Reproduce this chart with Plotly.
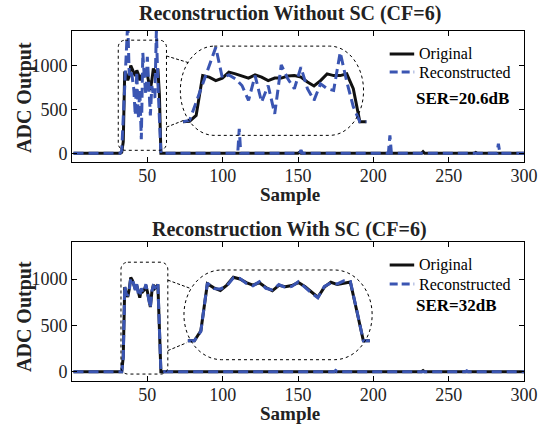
import plotly.graph_objects as go

# ---------------- data ----------------
n_samples = 300
samples = list(range(1, n_samples + 1))

# pulse region (sample index 32 .. 60)
pulse_samples = list(range(32, 61))
orig_top_pulse = [0, 10, 130, 935, 905, 835, 885, 1005, 970, 925, 885, 950, 905, 835, 885,
                  885, 925, 935, 905, 805, 725, 835, 970, 935, 935, 970, 670, 0, 0]
recon_top_pulse = [0, 30, 395, 765, 1135, 1506, 890, 950, 870, 735, 434, 935, 400, 735, 160,
                   1150, 870, 670, 1105, 670, 434, 770, 670, 635, 1405, 815, 307, 0, 0]
orig_bot_pulse = [0, 0, 161, 913, 848, 806, 892, 1018, 989, 932, 892, 929, 852, 800, 887,
                  865, 884, 932, 868, 779, 698, 860, 937, 900, 924, 940, 473, 0, 0]
recon_bot_pulse = [0, 0, 150, 925, 835, 830, 880, 1010, 1000, 920, 880, 945, 840, 815, 900,
                   855, 870, 945, 860, 765, 690, 870, 925, 910, 960, 950, 480, 0, 0]

# small excursions on the baseline
top_orig_bump_n = [151, 233, 268]
top_orig_bump_v = [12, 18, 10]
top_recon_spike_n = [111, 152, 211, 283]
top_recon_spike_v = [280, 35, 205, 110]
bot_orig_bump_n = [120, 233, 250]
bot_orig_bump_v = [8, 12, 8]
bot_recon_spike_n = [175, 262]
bot_recon_spike_v = [14, 10]

x_ticks = [50, 100, 150, 200, 250, 300]
y_ticks = [0, 500, 1000]

titles = ["Reconstruction Without SC (CF=6)", "Reconstruction With SC (CF=6)"]
ser_labels = ["SER=20.6dB", "SER=32dB"]


def build(pulse, bump_n, bump_v):
    arr = [0.0] * n_samples
    for n, v in zip(pulse_samples, pulse):
        arr[n - 1] = v
    for n, v in zip(bump_n, bump_v):
        arr[n - 1] = v
    return arr


orig_top = build(orig_top_pulse, top_orig_bump_n, top_orig_bump_v)
recon_top = build(recon_top_pulse, top_recon_spike_n, top_recon_spike_v)
orig_bot = build(orig_bot_pulse, bot_orig_bump_n, bot_orig_bump_v)
recon_bot = build(recon_bot_pulse, bot_recon_spike_n, bot_recon_spike_v)

# ---------------- style ----------------
FONT = "Liberation Serif"
BLUE = "#3A55B2"
BLACK = "#111111"
DASH = "10px,5px"

fig = go.Figure()

# layout geometry (pixels); body margin is removed by the post script
W, H = 550, 428
ML, MR, MT, MB = 72, 17, 31, 47
plot_h = H - MT - MB


def frac_y(px):
    return (H - MB - px) / plot_h


def fx(px):
    return (px - ML) / (W - ML - MR)


top_dom = [frac_y(162), frac_y(31)]
bot_dom = [frac_y(381), frac_y(242)]


def inset(pulse, x0, dx, y0, sy):
    xs = [x0 + (n - pulse_samples[0]) * dx for n in pulse_samples]
    ys = [y0 + v * sy for v in pulse]
    return xs, ys


panels = [
    dict(orig=orig_top, recon=recon_top, op=orig_top_pulse, rp=recon_top_pulse,
         xa="x", ya="y", ins=(73.7, 4.346, 360, 0.566)),
    dict(orig=orig_bot, recon=recon_bot, op=orig_bot_pulse, rp=recon_bot_pulse,
         xa="x2", ya="y2", ins=(76.9, 4.314, 334, 0.674)),
]

for p in panels:
    fig.add_trace(go.Scatter(x=samples, y=p["orig"], mode="lines", xaxis=p["xa"], yaxis=p["ya"],
                             line=dict(color=BLACK, width=3), showlegend=False))
    fig.add_trace(go.Scatter(x=samples, y=p["recon"], mode="lines", xaxis=p["xa"], yaxis=p["ya"],
                             line=dict(color=BLUE, width=3, dash=DASH), showlegend=False))
    ix, iy = inset(p["op"], *p["ins"])
    fig.add_trace(go.Scatter(x=ix, y=iy, mode="lines", xaxis=p["xa"], yaxis=p["ya"],
                             line=dict(color=BLACK, width=3), showlegend=False))
    ix, iy = inset(p["rp"], *p["ins"])
    fig.add_trace(go.Scatter(x=ix, y=iy, mode="lines", xaxis=p["xa"], yaxis=p["ya"],
                             line=dict(color=BLUE, width=3, dash=DASH), showlegend=False))


def rrect(x0, x1, y0, y1, rx, ry):
    k = 0.5523
    return (f"M {x0+rx},{y1} L {x1-rx},{y1} "
            f"C {x1-rx+k*rx},{y1} {x1},{y1-ry+k*ry} {x1},{y1-ry} "
            f"L {x1},{y0+ry} "
            f"C {x1},{y0+ry-k*ry} {x1-rx+k*rx},{y0} {x1-rx},{y0} "
            f"L {x0+rx},{y0} "
            f"C {x0+rx-k*rx},{y0} {x0},{y0+ry-k*ry} {x0},{y0+ry} "
            f"L {x0},{y1-ry} "
            f"C {x0},{y1-ry+k*ry} {x0+rx-k*rx},{y1} {x0+rx},{y1} Z")


shapes = []
dotline = dict(color="black", width=1, dash="dot")
conline = dict(color="black", width=1, dash="3px,2px")
# top panel
shapes.append(dict(type="path", xref="x", yref="y", line=dotline,
                   path=rrect(30.7, 62.7, 34, 1295, 4.6, 80)))
shapes.append(dict(type="path", xref="x", yref="y", line=dotline,
                   path=rrect(71.9, 193.5, 205, 1227, 22.5, 511)))
shapes.append(dict(type="line", xref="x", yref="y", x0=62.7, y0=1114, x1=77.2, y1=1038, line=conline))
shapes.append(dict(type="line", xref="x", yref="y", x0=62.7, y0=299, x1=73.9, y1=375, line=conline))
# bottom panel
shapes.append(dict(type="path", xref="x2", yref="y2", line=dotline,
                   path=rrect(32.5, 63.6, -25, 1182, 4.6, 76)))
shapes.append(dict(type="path", xref="x2", yref="y2", line=dotline,
                   path=rrect(74.3, 199.2, 130, 1098, 25, 484)))
shapes.append(dict(type="line", xref="x2", yref="y2", x0=63.6, y0=989, x1=78.1, y1=902, line=conline))
shapes.append(dict(type="line", xref="x2", yref="y2", x0=63.6, y0=228, x1=76.0, y1=312, line=conline))

# manual legends
annotations = []
leg_rows = [
    ("x domain", "y domain", [(162 - 54) / 131, (162 - 72) / 131, (162 - 98) / 131]),
    ("x2 domain", "y2 domain", [(381 - 265) / 139, (381 - 284) / 139, (381 - 305.7) / 139]),
]
for (xr, yr, ys), ser in zip(leg_rows, ser_labels):
    shapes.append(dict(type="line", xref=xr, yref=yr, x0=fx(396), x1=fx(421), y0=ys[0], y1=ys[0],
                       line=dict(color=BLACK, width=3)))
    shapes.append(dict(type="line", xref=xr, yref=yr, x0=fx(396), x1=fx(421), y0=ys[1], y1=ys[1],
                       line=dict(color=BLUE, width=3, dash="8px,4px")))
    annotations.append(dict(xref=xr, yref=yr, x=fx(424), y=ys[0], text="Original", showarrow=False,
                            xanchor="left", yanchor="middle", font=dict(family=FONT, size=16, color="black")))
    annotations.append(dict(xref=xr, yref=yr, x=fx(424), y=ys[1], text="Reconstructed", showarrow=False,
                            xanchor="left", yanchor="middle", font=dict(family=FONT, size=16, color="black")))
    annotations.append(dict(xref=xr, yref=yr, x=fx(421), y=ys[2], text="<b>" + ser + "</b>", showarrow=False,
                            xanchor="left", yanchor="middle", font=dict(family=FONT, size=17, color="black")))

# titles and axis labels
for t, ty, sy, ly in zip(titles, [13, 229], [195, 413], [97, 316]):
    annotations.append(dict(xref="paper", yref="paper", x=fx(294), y=frac_y(ty), text="<b>" + t + "</b>",
                            showarrow=False, xanchor="center", yanchor="middle",
                            font=dict(family=FONT, size=20, color="#222")))
    annotations.append(dict(xref="paper", yref="paper", x=fx(294), y=frac_y(sy), text="<b>Sample</b>",
                            showarrow=False, xanchor="center", yanchor="middle",
                            font=dict(family=FONT, size=19, color="#222")))
    annotations.append(dict(xref="paper", yref="paper", x=fx(23), y=frac_y(ly), text="<b>ADC Output</b>",
                            showarrow=False, xanchor="center", yanchor="middle", textangle=-90,
                            font=dict(family=FONT, size=20, color="#222")))

axis_common = dict(showline=True, linecolor="black", linewidth=1, mirror="ticks", ticks="inside",
                   ticklen=5, tickcolor="black", showgrid=False, zeroline=False,
                   tickfont=dict(family=FONT, size=18, color="#222"))

fig.update_layout(
    width=W, height=H,
    margin=dict(l=ML, r=MR, t=MT, b=MB),
    paper_bgcolor="white", plot_bgcolor="white",
    showlegend=False,
    shapes=shapes, annotations=annotations,
    xaxis=dict(domain=[0, 1], anchor="y", range=[0, 300], tickvals=x_ticks,
               ticklabelstandoff=-3, **axis_common),
    yaxis=dict(domain=top_dom, anchor="x", range=[-100, 1400], tickvals=y_ticks, **axis_common),
    xaxis2=dict(domain=[0, 1], anchor="y2", range=[0, 300], tickvals=x_ticks,
                ticklabelstandoff=-3, **axis_common),
    yaxis2=dict(domain=bot_dom, anchor="x2", range=[-100, 1400], tickvals=y_ticks, **axis_common),
)

fig.write_html("out.html", config={"displayModeBar": False},
               post_script="document.body.style.margin='0px';document.body.style.overflow='hidden';")
